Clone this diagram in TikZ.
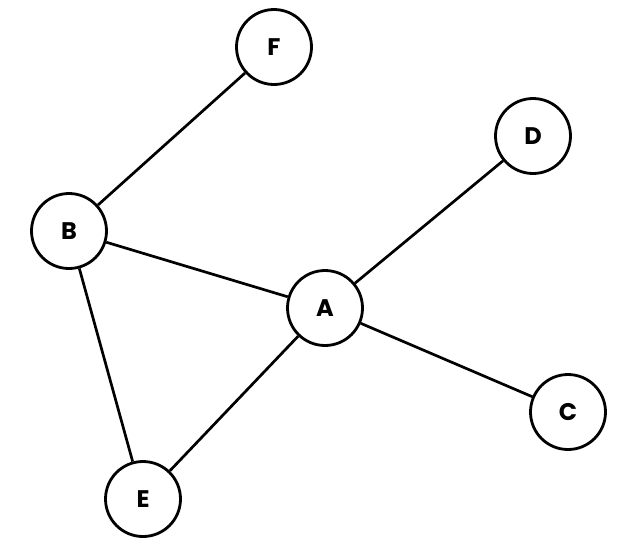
\documentclass[tikz,border=0pt]{standalone}
\usepackage{fontspec}
\setmainfont{Poppins}
\usetikzlibrary{arrows,shapes}
\tikzstyle{vertex}=[circle,draw=black,line width=2.8pt,fill=white,minimum size=75pt,inner sep=0pt,font=\fontsize{24}{24}\selectfont\bfseries]
\tikzstyle{edge} = [draw,line width=2.7pt,-]
\begin{document}
\begin{tikzpicture}[x=1pt,y=-1pt]
    \useasboundingbox (0,0) rectangle (618,558);
    % First we draw the vertices
    \foreach \pos/\name in {{(274,47)/F}, {(533,136)/D}, {(69,231)/B}, {(325,308)/A}, {(568,412)/C}, {(143,499)/E}}
        \node[vertex] (\name) at \pos {\name};
    % Connect vertices with edges
    \foreach \source/ \dest in {F/B, B/A, B/E, A/D, A/C, A/E}
        \path[edge] (\source) -- (\dest) ;
\end{tikzpicture}
\end{document}
